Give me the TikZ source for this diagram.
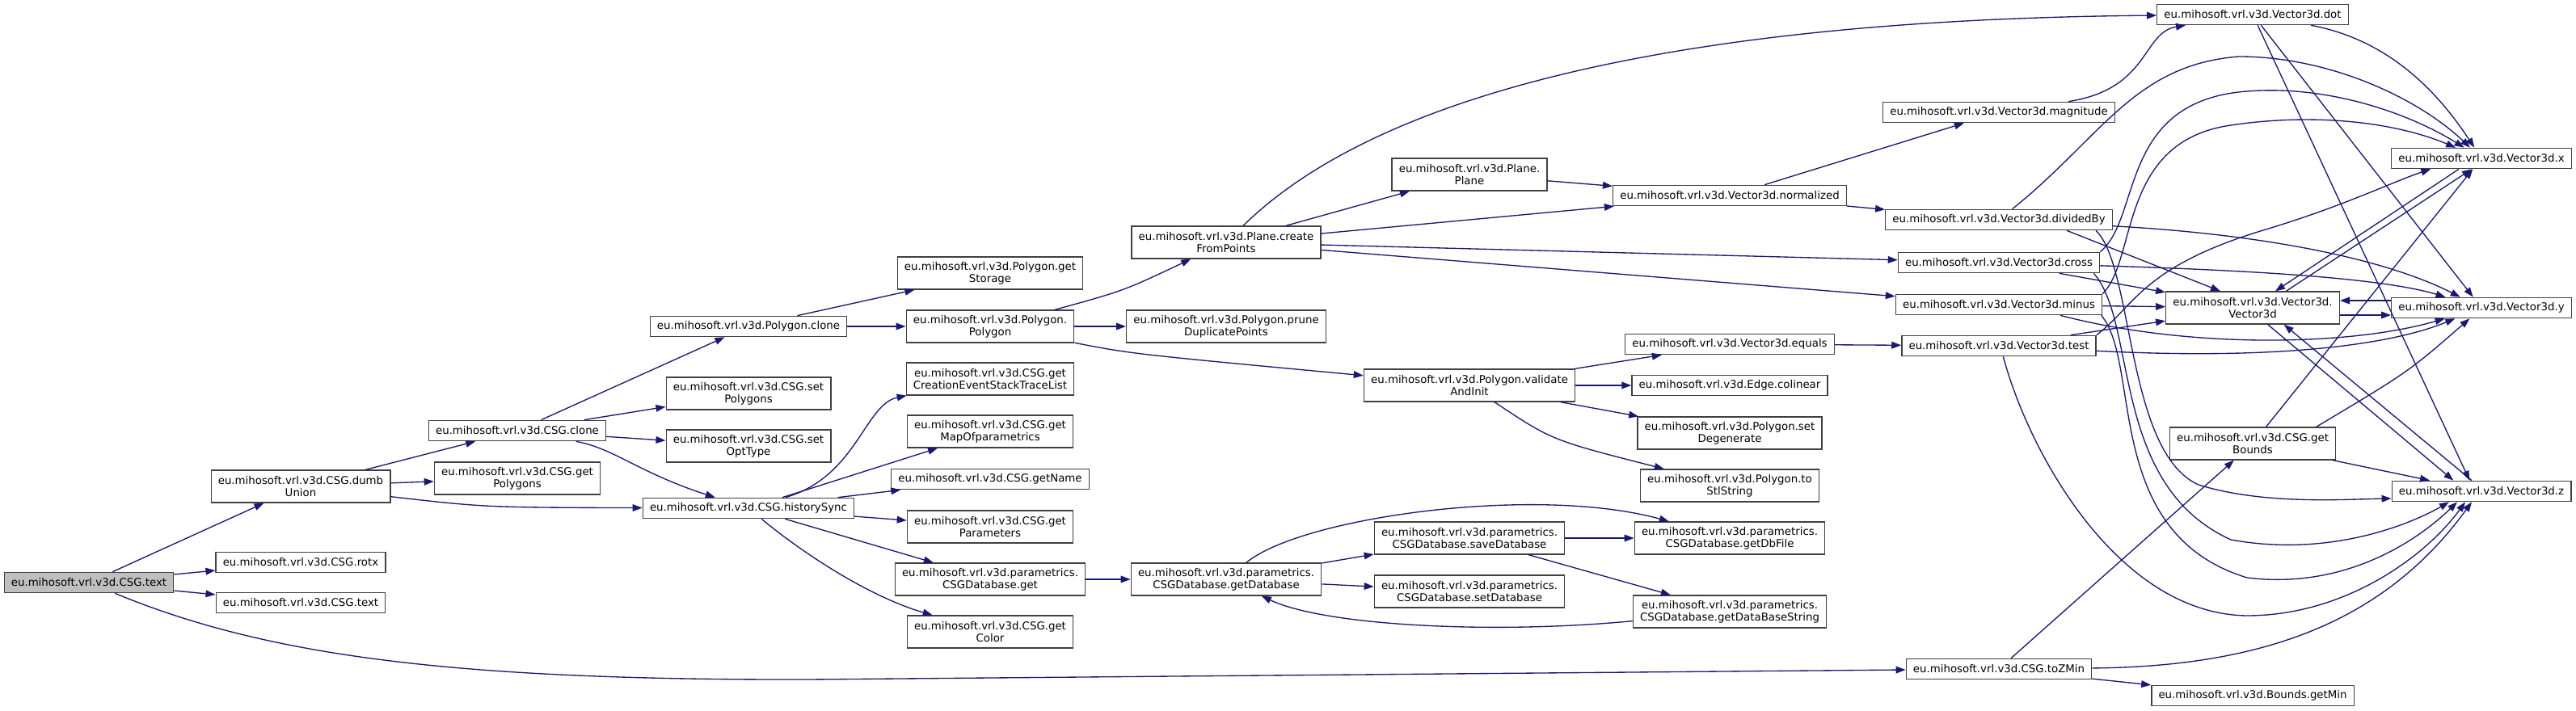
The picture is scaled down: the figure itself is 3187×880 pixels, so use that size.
\documentclass[tikz,border=0pt]{standalone}
\usepackage{fontspec}
\setmainfont{DejaVu Sans}
\usepackage{xcolor}
\usepackage{tikz}
\usetikzlibrary{arrows.meta}
\definecolor{edgeblue}{HTML}{191970}
\definecolor{rootgrey}{HTML}{BFBFBF}
\definecolor{boxline}{HTML}{404040}

\tikzset{
    fn/.style={draw=boxline, line width=1pt, fill=white, inner xsep=6.5pt, inner ysep=2pt,
        minimum height=19pt, align=center, font=\fontsize{10}{11}\selectfont},
    fn2/.style={fn, minimum height=30pt},
    call/.style={draw=edgeblue, line width=1pt, -{Triangle[length=9pt,width=6.5pt]}},
}

\begin{document}
\begin{tikzpicture}[x=0.75pt, y=-0.75pt]
\useasboundingbox (0,0) rectangle (3187,880);

% callers on the left
\node[fn, fill=rootgrey] (root) at (110,721) {eu.mihosoft.vrl.v3d.CSG.text};
\node[fn2] (dumbUnion) at (372,602) {eu.mihosoft.vrl.v3d.CSG.dumb\\Union};
\node[fn] (rotx) at (372,696) {eu.mihosoft.vrl.v3d.CSG.rotx};
\node[fn] (textCall) at (372,746) {eu.mihosoft.vrl.v3d.CSG.text};
\node[fn] (csgClone) at (640,533) {eu.mihosoft.vrl.v3d.CSG.clone};
\node[fn2] (getPolygons) at (640,592) {eu.mihosoft.vrl.v3d.CSG.get\\Polygons};
\node[fn] (historySync) at (926,629) {eu.mihosoft.vrl.v3d.CSG.historySync};
\node[fn] (polyClone) at (926,404) {eu.mihosoft.vrl.v3d.Polygon.clone};
\node[fn2] (setPolygons) at (926,487) {eu.mihosoft.vrl.v3d.CSG.set\\Polygons};
\node[fn2] (setOptType) at (926,552) {eu.mihosoft.vrl.v3d.CSG.set\\OptType};

\node[fn2] (getStorage) at (1225,338) {eu.mihosoft.vrl.v3d.Polygon.get\\Storage};
\node[fn2] (polyCtor) at (1225,404) {eu.mihosoft.vrl.v3d.Polygon.\\Polygon};
\node[fn2] (getTrace) at (1225,469) {eu.mihosoft.vrl.v3d.CSG.get\\CreationEventStackTraceList};
\node[fn2] (getParamMap) at (1225,534) {eu.mihosoft.vrl.v3d.CSG.get\\MapOfparametrics};
\node[fn] (getName) at (1225,593) {eu.mihosoft.vrl.v3d.CSG.getName};
\node[fn2] (getParams) at (1225,652) {eu.mihosoft.vrl.v3d.CSG.get\\Parameters};
\node[fn2] (dbGet) at (1225,717) {eu.mihosoft.vrl.v3d.parametrics.\\CSGDatabase.get};
\node[fn2] (getColor) at (1225,782) {eu.mihosoft.vrl.v3d.CSG.get\\Color};

\node[fn2] (fromPoints) at (1517,300) {eu.mihosoft.vrl.v3d.Plane.create\\FromPoints};
\node[fn2] (pruneDup) at (1517,404) {eu.mihosoft.vrl.v3d.Polygon.prune\\DuplicatePoints};
\node[fn2] (dbGetDatabase) at (1517,717) {eu.mihosoft.vrl.v3d.parametrics.\\CSGDatabase.getDatabase};

\node[fn2] (planeCtor) at (1818,216) {eu.mihosoft.vrl.v3d.Plane.\\Plane};
\node[fn2] (validate) at (1818,477) {eu.mihosoft.vrl.v3d.Polygon.validate\\AndInit};
\node[fn2] (dbSave) at (1818,666) {eu.mihosoft.vrl.v3d.parametrics.\\CSGDatabase.saveDatabase};
\node[fn2] (dbSet) at (1818,732) {eu.mihosoft.vrl.v3d.parametrics.\\CSGDatabase.setDatabase};

\node[fn] (normalized) at (2140,242) {eu.mihosoft.vrl.v3d.Vector3d.normalized};
\node[fn] (equals) at (2140,426) {eu.mihosoft.vrl.v3d.Vector3d.equals};
\node[fn] (colinear) at (2140,477) {eu.mihosoft.vrl.v3d.Edge.colinear};
\node[fn2] (setDegenerate) at (2140,536) {eu.mihosoft.vrl.v3d.Polygon.set\\Degenerate};
\node[fn2] (toStl) at (2140,601) {eu.mihosoft.vrl.v3d.Polygon.to\\StlString};
\node[fn2] (dbFile) at (2140,666) {eu.mihosoft.vrl.v3d.parametrics.\\CSGDatabase.getDbFile};
\node[fn2] (dbString) at (2140,757) {eu.mihosoft.vrl.v3d.parametrics.\\CSGDatabase.getDataBaseString};

% vector maths on the right
\node[fn] (magnitude) at (2473,139) {eu.mihosoft.vrl.v3d.Vector3d.magnitude};
\node[fn] (dividedBy) at (2473,272) {eu.mihosoft.vrl.v3d.Vector3d.dividedBy};
\node[fn] (cross) at (2473,325) {eu.mihosoft.vrl.v3d.Vector3d.cross};
\node[fn] (minus) at (2473,377) {eu.mihosoft.vrl.v3d.Vector3d.minus};
\node[fn] (test) at (2473,428) {eu.mihosoft.vrl.v3d.Vector3d.test};
\node[fn] (toZMin) at (2473,828) {eu.mihosoft.vrl.v3d.CSG.toZMin};

\node[fn] (dot) at (2787,18) {eu.mihosoft.vrl.v3d.Vector3d.dot};
\node[fn2] (vecCtor) at (2787,381) {eu.mihosoft.vrl.v3d.Vector3d.\\Vector3d};
\node[fn2] (getBounds) at (2787,549) {eu.mihosoft.vrl.v3d.CSG.get\\Bounds};
\node[fn] (getMin) at (2787,861) {eu.mihosoft.vrl.v3d.Bounds.getMin};

\node[fn] (vx) at (3070,196) {eu.mihosoft.vrl.v3d.Vector3d.x};
\node[fn] (vy) at (3070,381) {eu.mihosoft.vrl.v3d.Vector3d.y};
\node[fn] (vz) at (3070,608) {eu.mihosoft.vrl.v3d.Vector3d.z};

% straight calls
\foreach \a/\b in {root/dumbUnion, root/rotx, root/textCall,
    dumbUnion/csgClone, dumbUnion/getPolygons,
    csgClone/polyClone, csgClone/setPolygons, csgClone/setOptType,
    polyClone/getStorage, polyClone/polyCtor, polyCtor/pruneDup,
    historySync/getParamMap, historySync/getName, historySync/getParams, historySync/dbGet,
    dbGet/dbGetDatabase, dbGetDatabase/dbSave, dbGetDatabase/dbSet,
    dbSave/dbFile, dbSave/dbString,
    fromPoints/planeCtor, fromPoints/normalized, fromPoints/cross, fromPoints/minus,
    planeCtor/normalized, normalized/magnitude, normalized/dividedBy,
    validate/equals, validate/colinear, validate/setDegenerate, equals/test,
    cross/vecCtor, minus/vecCtor, test/vecCtor, dot/vy,
    getBounds/vx, getBounds/vz, toZMin/getBounds, toZMin/getMin}
    \draw[call] (\a) -- (\b);

% curved calls
\draw[call] (root) .. controls (330,812) and (560,842) .. (1000,841) -- (toZMin);
\draw[call] (dumbUnion) .. controls (600,628) .. (historySync);
\draw[call] (csgClone) .. controls (760,555) and (790,585) .. (historySync);
\draw[call] ([xshift=60pt]polyCtor.north) .. controls (1390,360) .. (fromPoints);
\draw[call] (polyCtor) .. controls (1400,438) .. (validate);
\draw[call] (historySync) .. controls (1060,590) and (1070,500) .. (getTrace);
\draw[call] (historySync) .. controls (1000,690) and (1080,740) .. (getColor);
\draw[call] (dbGetDatabase) .. controls (1610,640) and (1900,600) .. (dbFile);
\draw[call] (dbString) .. controls (1850,785) and (1640,775) .. (dbGetDatabase);
\draw[call] (validate) .. controls (1920,545) .. (toStl);
\draw[call] (fromPoints) .. controls (1680,140) and (2000,25) .. (dot);
\draw[call] (magnitude) .. controls (2660,110) and (2650,40) .. (dot);

\draw[call] (dot) .. controls (2960,50) and (3020,120) .. (vx);
\draw[call] (dot) -- ([xshift=-11pt]vz.north);
\draw[call] ([xshift=-21pt]vx.south) -- ([xshift=21pt]vecCtor.north);
\draw[call] ([xshift=31pt]vecCtor.north) -- ([xshift=-9pt]vx.south);
\draw[call] ([yshift=6.75pt]vy.west) -- ([yshift=6.75pt]vecCtor.east);
\draw[call] ([yshift=-6.75pt]vecCtor.east) -- ([yshift=-6.75pt]vy.west);
\draw[call] ([xshift=14pt]vecCtor.south) -- ([xshift=-26pt]vz.north);
\draw[call] ([xshift=-9pt]vz.north) -- ([xshift=29pt]vecCtor.south);

\draw[call] (dividedBy) .. controls (2600,170) and (2640,80) .. (2770,70)
    .. controls (2880,70) and (2990,120) .. (vx);
\draw[call] (dividedBy) .. controls (2800,290) and (2950,320) .. (vy);
\draw[call] ([xshift=63pt]dividedBy.south) -- ([xshift=-30pt]vecCtor.north);
\draw[call] ([xshift=90pt]dividedBy.south) .. controls (2640,330) and (2630,560) .. (2720,600)
    .. controls (2800,625) and (2900,618) .. ([yshift=-6.75pt]vz.west);

\draw[call] (cross.north east) .. controls (2650,270) and (2620,125) .. (2780,113)
    .. controls (2880,105) and (2980,140) .. (vx);
\draw[call] (cross) .. controls (2800,335) and (2950,345) .. (vy);
\draw[call] ([xshift=88pt]cross.south) .. controls (2645,400) and (2610,600) .. (2760,668)
    .. controls (2880,690) and (2980,650) .. ([xshift=-30pt]vz.south);

\draw[call] (minus.north east) .. controls (2645,320) and (2620,175) .. (2760,155)
    .. controls (2860,140) and (2960,150) .. (vx);
\draw[call] ([xshift=57pt]minus.south) .. controls (2700,430) and (2900,430) .. ([xshift=-34pt]vy.south);
\draw[call] ([xshift=95pt]minus.south) .. controls (2650,450) and (2600,660) .. (2780,715)
    .. controls (2900,730) and (2990,670) .. ([xshift=-22.5pt]vz.south);

\draw[call] (test.north east) .. controls (2640,380) and (2650,330) .. (2800,285)
    .. controls (2900,255) and (2960,225) .. ([xshift=-47pt]vx.south);
\draw[call] (test) .. controls (2800,445) and (2950,430) .. (vy);
\draw[call] ([xshift=4pt]test.south) .. controls (2510,560) and (2620,760) .. (2780,762)
    .. controls (2900,762) and (3000,690) .. ([xshift=-15pt]vz.south);

\draw[call] ([xshift=59pt]getBounds.north) .. controls (2980,460) .. ([xshift=-11pt]vy.south);
\draw[call] (toZMin) .. controls (2800,825) and (2950,770) .. ([xshift=-9pt]vz.south);
\end{tikzpicture}
\end{document}
